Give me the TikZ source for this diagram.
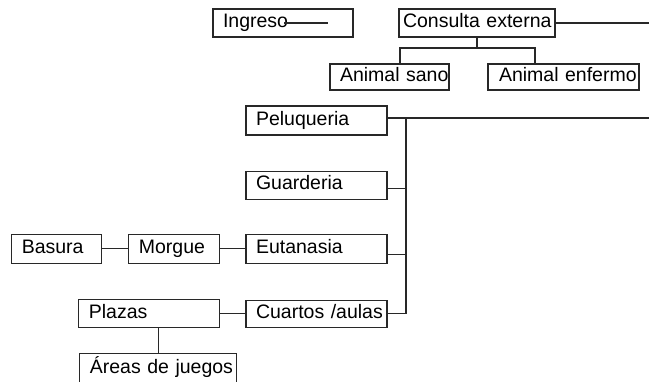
\documentclass[tikz,border=0pt]{standalone}
\usepackage{fontspec}
\setmainfont{Liberation Sans}
\usetikzlibrary{positioning}
\definecolor{linegray}{RGB}{40,40,40}
\hyphenpenalty=10000
\exhyphenpenalty=10000

\begin{document}
\begin{tikzpicture}[
      x=1pt, y=-1pt,
      font=\fontsize{19.5}{22}\selectfont,
      caja/.style={draw=linegray, line width=1.1pt, align=left, inner xsep=10pt, inner ysep=0pt, text height=14pt, text depth=5pt, minimum height=28pt},
      con/.style={draw=linegray, line width=1.1pt}
    ]
    \clip (0,0) rectangle (649,381);

    \node[caja, text width=120pt] (ingreso) at (283,23) {Ingreso};
    \node[caja, inner xsep=4pt, text width=148pt] (consulta) at (477,23) {Consulta~externa};
    \node[caja, text width=99pt, minimum height=26pt] (sano) at (389.5,77) {Animal~sano};
    \node[caja, inner xsep=11pt, text width=129pt, minimum height=26pt] (enfermo) at (563.5,77) {Animal~enfermo};

    \node[caja, text width=121pt, minimum height=29pt] (pelu) at (316.5,120.5) {Peluqueria};
    \node[caja, text width=121pt, below=35pt of pelu] (guard) {Guarderia};
    \node[caja, text width=121pt, minimum height=29pt, below=34pt of guard] (euta) {Eutanasia};
    \node[caja, text width=121pt, minimum height=27pt, below=36pt of euta] (cuartos) {Cuartos~/aulas};

    \node[caja, text width=71pt, minimum height=29pt, left=25pt of euta] (morgue) {Morgue};
    \node[caja, text width=70pt, minimum height=29pt, left=26pt of morgue] (basura) {Basura};
    \node[caja, text width=121pt, left=25pt of cuartos] (plazas) {Plazas};
    \node[caja, text width=137pt, minimum height=30pt, below=25pt of plazas, xshift=9pt] (areas) {Áreas~de~juegos};

    % lineas sueltas
    \coordinate (ing-a) at (284,23);
    \coordinate (ing-b) at (328,23);
    \coordinate (sal-1) at (649,23);
    \coordinate (sal-2) at (649,118);
    \coordinate (bus) at (477,48);
    \coordinate (nudo) at (406,118);

    \draw[con] (ing-a) -- (ing-b);
    \draw[con] (consulta) -- (sal-1);
    \draw[con] (consulta) -- (bus);
    \draw[con] ([xshift=10.5pt]sano.north) |- (bus) -| ([xshift=-28.5pt]enfermo.north);

    \draw[con] ([yshift=2.5pt]pelu.east) -- (sal-2);
    \draw[con] ([yshift=-3pt]guard.east) -| (nudo);
    \draw[con] ([yshift=-5.5pt]euta.east) -| (nudo);
    \draw[con] (cuartos.east) -| (nudo);

    \draw[con] (basura) -- (morgue);
    \draw[con] (morgue) -- (euta);
    \draw[con] (plazas) -- (cuartos);
    \draw[con] (areas) -- (areas |- plazas.south);
  \end{tikzpicture}
\end{document}
